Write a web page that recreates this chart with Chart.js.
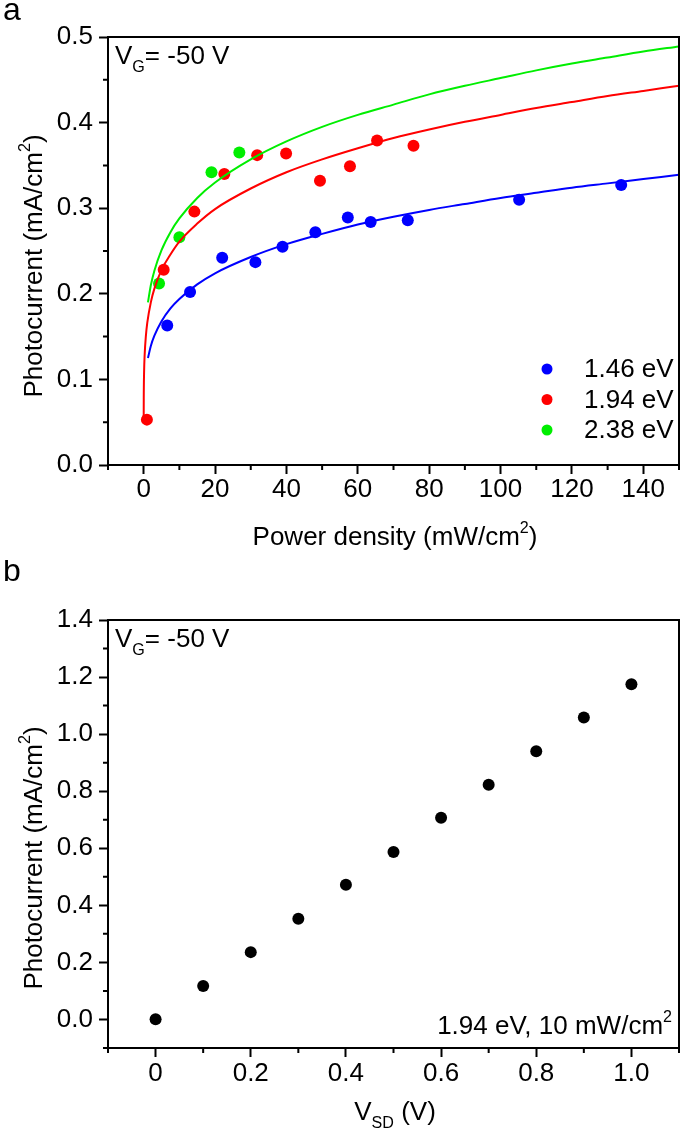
<!DOCTYPE html>
<html>
<head>
<meta charset="utf-8">
<script src="https://cdn.jsdelivr.net/npm/chart.js@4.4.1/dist/chart.umd.min.js"></script>
<style>
  html, body { margin: 0; padding: 0; background: #fff; }
  .panel { position: absolute; left: 0; width: 685px; }
  #wrapA { top: 0; height: 560px; }
  #wrapB { top: 560px; height: 577px; }
</style>
</head>
<body>
<div class="panel" id="wrapA"><canvas id="chartA"></canvas></div>
<div class="panel" id="wrapB"><canvas id="chartB"></canvas></div>
<script>
const FONT = '"Liberation Sans", Arial, Helvetica, sans-serif';

// panel a: measured points (power density mW/cm2, photocurrent mA/cm2)
const blueX = [6.6, 13.0, 22.0, 31.3, 38.9, 48.1, 57.2, 63.6, 74.0, 105.2, 133.8];
const blueY = [0.163, 0.202, 0.242, 0.237, 0.255, 0.272, 0.289, 0.284, 0.286, 0.310, 0.327];
const redX  = [0.9, 5.6, 14.2, 22.6, 31.8, 39.9, 49.4, 57.8, 65.4, 75.6];
const redY  = [0.053, 0.228, 0.296, 0.340, 0.362, 0.364, 0.332, 0.349, 0.379, 0.373];
const greenX = [4.3, 10.0, 19.0, 26.8];
const greenY = [0.212, 0.266, 0.342, 0.365];

// panel a: fitted curves
const fitX      = [1.2, 2, 3, 5, 7.5, 10, 15, 20, 30, 40, 50, 60, 70, 80, 90, 100, 110, 120, 130, 140, 150];
const fitBlueY  = [0.125, 0.139, 0.151, 0.168, 0.183, 0.194, 0.211, 0.224, 0.243, 0.258, 0.270, 0.281, 0.290, 0.298, 0.305, 0.312, 0.318, 0.324, 0.329, 0.334, 0.339];
const fitGreenY = [0.190, 0.210, 0.227, 0.251, 0.272, 0.288, 0.312, 0.330, 0.357, 0.378, 0.395, 0.409, 0.421, 0.433, 0.443, 0.452, 0.461, 0.469, 0.476, 0.483, 0.489];
const fitRedX   = [0.004, 0.02, 0.1, 0.3, 0.6, 1, 2, 3, 5, 7.5, 10, 15, 20, 30, 40, 50, 60, 70, 80, 90, 100, 110, 120, 130, 140, 150];
const fitRedY   = [0.056, 0.077, 0.106, 0.131, 0.150, 0.166, 0.190, 0.206, 0.228, 0.246, 0.261, 0.282, 0.299, 0.323, 0.342, 0.357, 0.370, 0.382, 0.392, 0.401, 0.409, 0.417, 0.424, 0.431, 0.437, 0.443];

const seriesLabels = ['1.46 eV', '1.94 eV', '2.38 eV'];
const seriesColors = ['#0000ff', '#ff0000', '#00ee00'];

// panel b: photocurrent vs source-drain voltage
const vsd   = [0, 0.1, 0.2, 0.3, 0.4, 0.5, 0.6, 0.7, 0.8, 0.9, 1.0];
const photo = [0.001, 0.117, 0.236, 0.353, 0.472, 0.587, 0.707, 0.823, 0.940, 1.058, 1.175];

// tick values
const majorAX = [0, 20, 40, 60, 80, 100, 120, 140];
const majorAY = [0, 0.1, 0.2, 0.3, 0.4, 0.5];
const majorBX = [0, 0.2, 0.4, 0.6, 0.8, 1.0];
const majorBY = [0, 0.2, 0.4, 0.6, 0.8, 1.0, 1.2, 1.4];
const minorAX = [-10, 10, 30, 50, 70, 90, 110, 130, 150];
const minorAY = [0.05, 0.15, 0.25, 0.35, 0.45];
const minorBX = [-0.1, 0.1, 0.3, 0.5, 0.7, 0.9, 1.1];
const minorBY = [-0.1, 0.1, 0.3, 0.5, 0.7, 0.9, 1.1, 1.3];

const pts = (xs, ys) => xs.map((x, i) => ({ x, y: ys[i] }));

function drawRich(ctx, parts, x, y, size, align, rotate) {
  ctx.save();
  ctx.translate(x, y);
  if (rotate) ctx.rotate(-Math.PI / 2);
  let w = 0;
  const items = parts.map(p => {
    const s = p[1] ? size * 0.62 : size;
    ctx.font = `${s}px ${FONT}`;
    const m = ctx.measureText(p[0]).width;
    w += m;
    return { t: p[0], mode: p[1], s, m };
  });
  let cx = align === 'center' ? -w / 2 : align === 'right' ? -w : 0;
  ctx.textAlign = 'left';
  ctx.textBaseline = 'alphabetic';
  ctx.fillStyle = '#000';
  items.forEach(it => {
    ctx.font = `${it.s}px ${FONT}`;
    const dy = it.mode === 'sub' ? size * 0.3 : it.mode === 'sup' ? -size * 0.45 : 0;
    ctx.fillText(it.t, cx, dy);
    cx += it.m;
  });
  ctx.restore();
}

const decor = {
  id: 'decor',
  afterDraw(chart, args, opts) {
    const ctx = chart.ctx, a = chart.chartArea;
    const xs = chart.scales.x, ys = chart.scales.y;
    ctx.save();
    ctx.strokeStyle = '#000';
    ctx.lineWidth = 2;
    ctx.strokeRect(a.left, a.top, a.right - a.left, a.bottom - a.top);
    ctx.beginPath();
    (opts.minorX || []).forEach(v => {
      const px = xs.getPixelForValue(v);
      ctx.moveTo(px, a.bottom); ctx.lineTo(px, a.bottom + 5);
    });
    (opts.minorY || []).forEach(v => {
      const py = ys.getPixelForValue(v);
      ctx.moveTo(a.left, py); ctx.lineTo(a.left - 5, py);
    });
    ctx.stroke();
    ctx.restore();

    (opts.texts || []).forEach(t => drawRich(ctx, t.parts, t.x, t.y, t.size, t.align, t.rotate));

    if (opts.legend) {
      const L = opts.legend;
      chart.data.datasets.filter(d => d.inLegend).forEach((d, i) => {
        const y = L.y + i * L.gap;
        ctx.beginPath();
        ctx.fillStyle = d.backgroundColor;
        ctx.arc(L.x, y, 5.5, 0, Math.PI * 2);
        ctx.fill();
        ctx.fillStyle = '#000';
        ctx.font = `26px ${FONT}`;
        ctx.textAlign = 'left';
        ctx.textBaseline = 'middle';
        ctx.fillText(d.label, L.x + 37, y + 1);
      });
    }
  }
};

function axis(min, max, major, fmt, fitSize, isY, pad) {
  return {
    type: 'linear', min, max,
    border: { display: true, color: '#000', width: 2 },
    grid: { display: true, drawOnChartArea: false, drawTicks: true, tickLength: 9, tickColor: '#000', tickWidth: 2 },
    ticks: { autoSkip: false, maxRotation: 0, color: '#000', padding: pad,
             font: { family: FONT, size: 26 }, callback: fmt },
    afterBuildTicks(scale) { scale.ticks = major.map(v => ({ value: v })); },
    afterFit(scale) { if (isY) scale.width = fitSize; else scale.height = fitSize; }
  };
}

function scatterSet(label, xs, ys, color, r) {
  return { type: 'scatter', label, data: pts(xs, ys), backgroundColor: color, borderColor: color,
           pointRadius: r, pointBorderWidth: 0, pointHoverRadius: r, showLine: false, order: 1, inLegend: true };
}
function fitSet(xs, ys, color) {
  return { type: 'line', label: '', data: pts(xs, ys), borderColor: color, borderWidth: 2, pointRadius: 0,
           fill: false, cubicInterpolationMode: 'monotone', order: 0 };
}

new Chart(document.getElementById('chartA'), {
  type: 'scatter',
  data: {
    datasets: [
      fitSet(fitX, fitBlueY, seriesColors[0]),
      fitSet(fitRedX, fitRedY, seriesColors[1]),
      fitSet(fitX, fitGreenY, seriesColors[2]),
      scatterSet(seriesLabels[0], blueX, blueY, seriesColors[0], 6),
      scatterSet(seriesLabels[1], redX, redY, seriesColors[1], 6),
      scatterSet(seriesLabels[2], greenX, greenY, seriesColors[2], 6)
    ]
  },
  options: {
    responsive: true, maintainAspectRatio: false, animation: false, devicePixelRatio: 1,
    layout: { padding: { top: 37, right: 3, left: 0, bottom: 0 } },
    scales: {
      x: axis(-10, 150, majorAX, v => String(v), 95, false, 0),
      y: axis(0, 0.5, majorAY, v => v.toFixed(1), 108, true, 6)
    },
    plugins: {
      legend: { display: false }, tooltip: { enabled: false },
      decor: {
        minorX: minorAX, minorY: minorAY,
        legend: { x: 547, y: 369, gap: 30.5 },
        texts: [
          { parts: [['a']], x: 3, y: 20, size: 32, align: 'left' },
          { parts: [['V'], ['G', 'sub'], ['= -50 V']], x: 115, y: 64, size: 26, align: 'left' },
          { parts: [['Power density (mW/cm'], ['2', 'sup'], [')']], x: 395, y: 545, size: 26, align: 'center' },
          { parts: [['Photocurrent (mA/cm'], ['2', 'sup'], [')']], x: 42, y: 266, size: 26, align: 'center', rotate: true }
        ]
      }
    }
  },
  plugins: [decor]
});

new Chart(document.getElementById('chartB'), {
  type: 'scatter',
  data: {
    datasets: [ { type: 'scatter', label: 'V_SD', data: pts(vsd, photo), backgroundColor: '#000', borderColor: '#000',
                  pointRadius: 6, pointBorderWidth: 0, showLine: false } ]
  },
  options: {
    responsive: true, maintainAspectRatio: false, animation: false, devicePixelRatio: 1,
    layout: { padding: { top: 60, right: 3, left: 0, bottom: 0 } },
    scales: {
      x: axis(-0.1, 1.1, majorBX, v => (Math.abs(v) < 1e-9 ? '0' : v.toFixed(1)), 89, false, 1),
      y: axis(-0.1, 1.4, majorBY, v => v.toFixed(1), 108, true, 6)
    },
    plugins: {
      legend: { display: false }, tooltip: { enabled: false },
      decor: {
        minorX: minorBX, minorY: minorBY,
        texts: [
          { parts: [['b']], x: 3, y: 21, size: 32, align: 'left' },
          { parts: [['V'], ['G', 'sub'], ['= -50 V']], x: 115, y: 87, size: 26, align: 'left' },
          { parts: [['1.94 eV, 10 mW/cm'], ['2', 'sup']], x: 672, y: 474, size: 26, align: 'right' },
          { parts: [['V'], ['SD', 'sub'], [' (V)']], x: 395, y: 560, size: 26, align: 'center' },
          { parts: [['Photocurrent (mA/cm'], ['2', 'sup'], [')']], x: 42, y: 298, size: 26, align: 'center', rotate: true }
        ]
      }
    }
  },
  plugins: [decor]
});
</script>
</body>
</html>
